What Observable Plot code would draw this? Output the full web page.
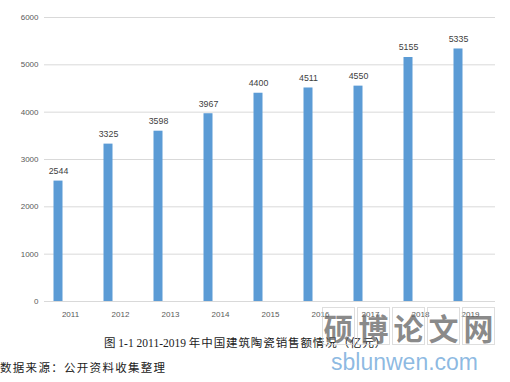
<!DOCTYPE html>
<html>
<head>
<meta charset="utf-8">
<script src="https://cdn.jsdelivr.net/npm/d3@7"></script>
<script src="https://cdn.jsdelivr.net/npm/@observablehq/plot@0.6"></script>
<style>
  body { margin: 0; background: #fff; width: 510px; height: 382px; overflow: hidden; position: relative; }
  #chart svg { display: block; }
  .caption { position: absolute; left: 104px; top: 334px; white-space: nowrap; font-family: "Liberation Serif", "Noto Sans CJK SC", serif; font-size: 11.5px; color: #222; }
  .caption .zh { letter-spacing: 0.9px; }
  .source { position: absolute; left: 0; top: 359px; font-family: "Noto Sans CJK SC", sans-serif; font-size: 11.5px; letter-spacing: 1.3px; color: #222; }
  .wm1 { position: absolute; left: 322px; top: 307px; display: flex; }
  .wm1 span { display: inline-block; width: 33px; height: 38px; margin-right: 2px; border: 1px solid rgba(200,200,200,0.6); box-sizing: border-box; text-align: center; line-height: 38px; font-family: "Noto Sans CJK SC", sans-serif; font-weight: 700; font-size: 30px; color: rgba(100,100,100,0.75); }
  .wm2 { position: absolute; left: 331px; top: 349px; font-family: "Liberation Sans", sans-serif; font-size: 23px; color: rgba(91,155,213,0.7); }
</style>
</head>
<body>
<div id="chart"></div>
<div class="caption">图 1-1 2011-2019 <span class="zh">年中国建筑陶瓷销售额情况（亿元）</span></div>
<div class="source">数据来源：公开资料收集整理</div>
<div class="wm1"><span>硕</span><span>博</span><span>论</span><span>文</span><span>网</span></div>
<div class="wm2">sblunwen.com</div>
<script>
const years = ["2011","2012","2013","2014","2015","2016","2017","2018","2019"];
const sales = [2544, 3325, 3598, 3967, 4400, 4511, 4550, 5155, 5335];
const yTicks = [0, 1000, 2000, 3000, 4000, 5000, 6000];

const data = years.map((y, i) => ({year: y, value: sales[i]}));

const chart = Plot.plot({
  width: 510,
  height: 326,
  marginTop: 17,
  marginBottom: 25,
  marginLeft: 44,
  marginRight: 15,
  style: {fontFamily: "Liberation Sans, Arial, sans-serif", fontSize: "8px", color: "#595959", background: "#fff"},
  x: {domain: years, padding: 0, label: null},
  y: {domain: [0, 6000], label: null},
  marks: [
    Plot.ruleY(yTicks, {stroke: "#d9d9d9", strokeWidth: 1}),
    Plot.barY(data, {x: "year", y: "value", fill: "#5b9bd5", insetLeft: 8.5, insetRight: 32.5}),
    Plot.text(data, {x: "year", y: "value", text: d => String(d.value), dx: -12, dy: -10, fill: "#404040", fontSize: 8.8}),
    Plot.axisY(yTicks, {tickSize: 0, tickPadding: 6, tickFormat: d => String(d), fill: "#595959"}),
    Plot.axisX({tickSize: 0, tickPadding: 10, fill: "#595959"})
  ]
});
document.getElementById("chart").appendChild(chart);
</script>
</body>
</html>
